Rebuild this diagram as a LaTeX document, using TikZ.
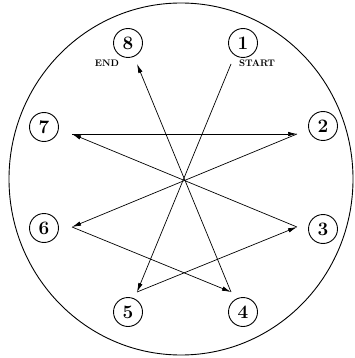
\documentclass[tikz,border=0pt]{standalone}
\usepackage{tikz}
\usetikzlibrary{
	arrows.meta,
	positioning,
	calc
}

\begin{document}
\begin{tikzpicture}[x=1pt,y=-1pt,
		seat/.style={circle,draw,line width=0.9pt,minimum size=29pt,inner sep=0pt,font=\fontsize{19}{20}\selectfont\bfseries},
		tag/.style={font=\fontsize{9.5}{11}\selectfont\bfseries},
		jump/.style={line width=0.7pt,-{Latex[length=9pt,width=4.5pt]}}]
		\clip (0,0) rectangle (354,358);
		\useasboundingbox (0,0) rectangle (354,358);
		\draw[line width=0.9pt] (181,179) ellipse [x radius=172, y radius=176];
		% numbered positions
		\foreach \n/\x/\y in {1/243/43,2/323/126,3/323/229,4/243/312,5/128/312,6/44/228,7/44/127,8/128/43}{
			\node[seat] (s\n) at (\x,\y) {\n};
		}
		\node[tag] (start) at (257,63) {START};
		\node[tag] (end) at (107,63) {END};
		% turning points of the path
		\foreach \n/\x/\y in {1/231/64,2/297/134,3/297/227,4/231/292,5/137/292,6/72/227,7/72/134,8/137/64}{
			\coordinate (p\n) at (\x,\y);
		}
		\foreach \a/\b in {1/5,5/3,3/7,7/2,2/6,6/4,4/8}{
			\draw[jump] (p\a) -- (p\b);
		}
	\end{tikzpicture}
\end{document}
